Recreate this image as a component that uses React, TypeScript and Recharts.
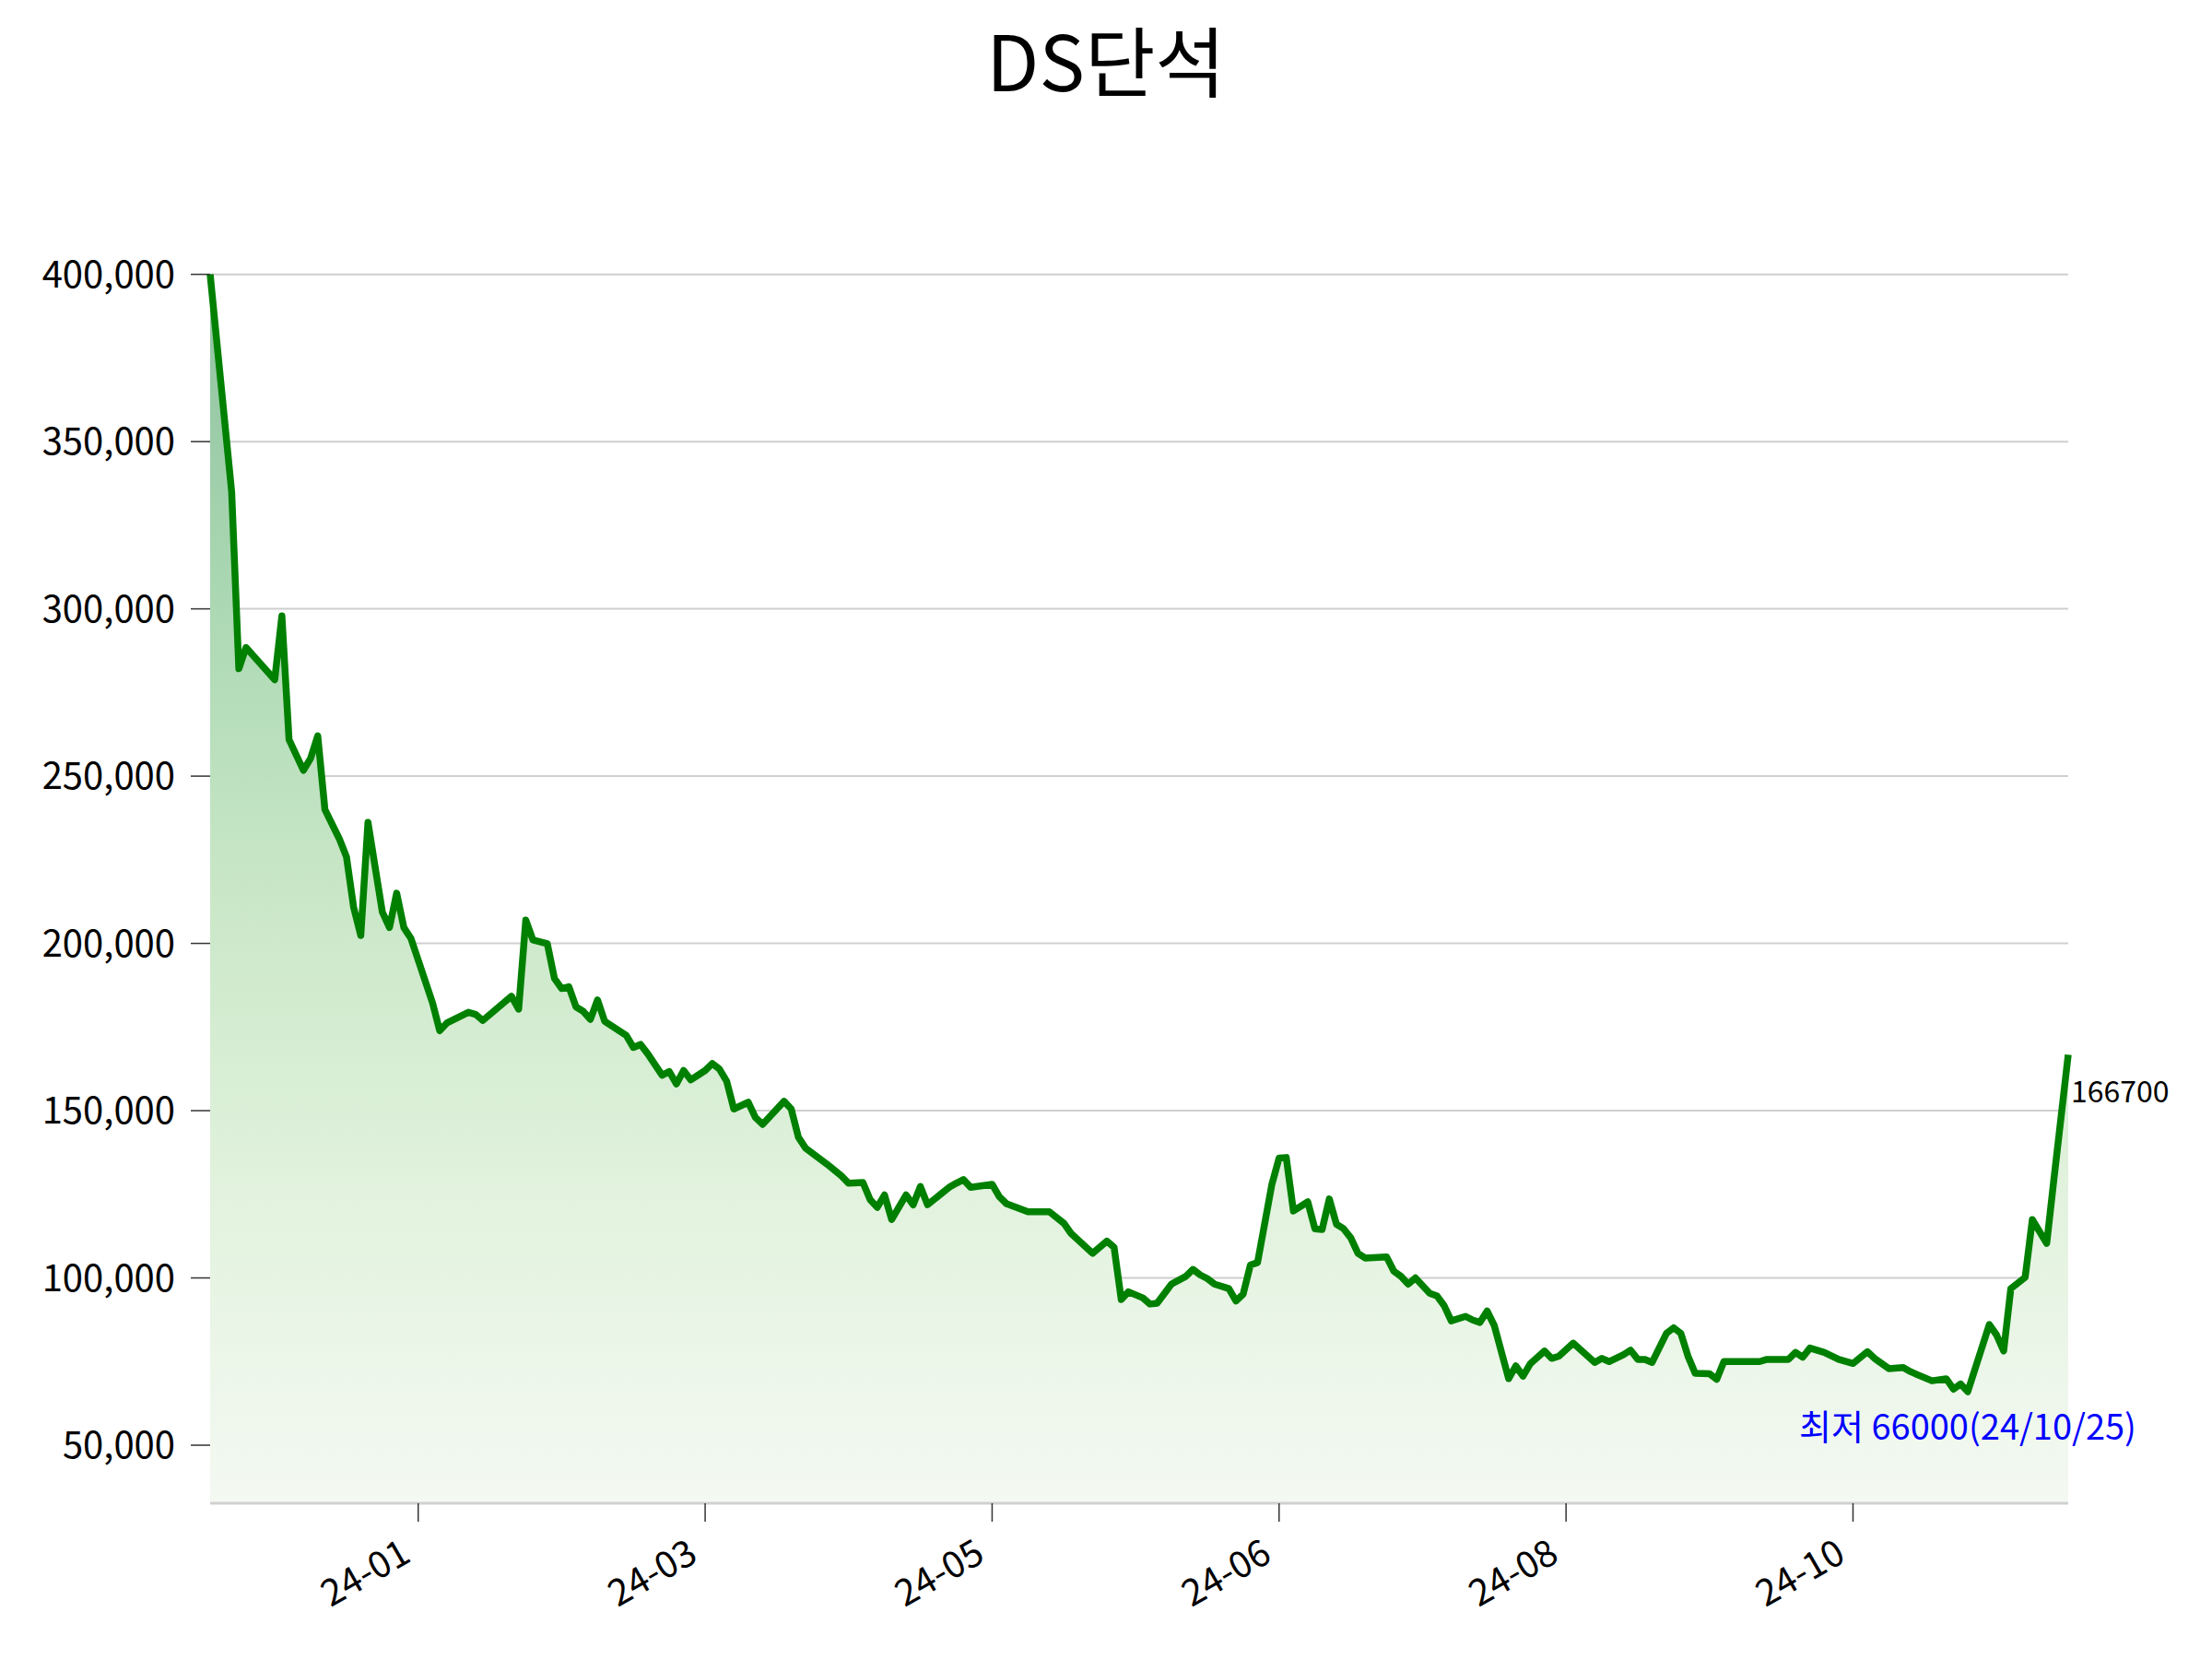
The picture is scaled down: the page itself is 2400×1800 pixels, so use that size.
import { AreaChart, Area, XAxis, YAxis, CartesianGrid, LabelList } from "recharts"

const FONT = '"Noto Sans CJK KR", "Noto Sans", sans-serif'

// trading-day index (x) and closing price (y)
const dayIndex = [
  0, 3, 4, 5, 9, 10, 11, 13, 14, 15, 16, 18, 19, 20, 21, 22, 24, 25, 26, 27,
  28, 31, 32, 33, 36, 37, 38, 42, 43, 44, 45, 47, 48, 49, 50, 51, 52, 53, 54, 55,
  58, 59, 60, 61, 63, 64, 65, 66, 67, 69, 70, 71, 72, 73, 75, 76, 77, 80, 81, 82,
  83, 86, 88, 89, 91, 92, 93, 94, 95, 97, 98, 99, 100, 103, 104, 105, 106, 109, 110, 111,
  114, 117, 119, 120, 123, 125, 126, 127, 128, 130, 131, 132, 134, 136, 137, 138, 139, 140, 142, 143,
  144, 145, 146, 148, 149, 150, 151, 153, 154, 155, 156, 157, 158, 159, 160, 161, 164, 165, 166, 167,
  168, 170, 171, 172, 173, 175, 176, 177, 178, 179, 181, 182, 183, 184, 186, 187, 188, 190, 193, 194,
  195, 197, 198, 199, 200, 201, 203, 204, 205, 206, 207, 209, 210, 211, 216, 217, 220, 221, 222, 223,
  225, 227, 229, 231, 232, 234, 236, 237, 238, 240, 242, 243, 244, 245, 248, 249, 250, 251, 253, 254,
  256, 257, 259,
]

const prices = [
  400000, 335000, 282100, 288450, 278800, 297900, 260900, 251750, 255300, 262050,
  240000, 231300, 225900, 210800, 202350, 236200, 209400, 204750, 215000, 204750,
  201450, 182200, 173900, 176200, 179400, 178800, 176950, 184200, 180350, 207000,
  201000, 199900, 189500, 186500, 187050, 181000, 179700, 177300, 183100, 176700,
  172500, 168900, 169800, 167000, 160600, 161700, 158000, 162000, 159200, 162000,
  164100, 162400, 158800, 150500, 152500, 148000, 145900, 152800, 150500, 142050,
  138800, 134000, 130500, 128300, 128500, 123400, 121100, 124800, 117450, 124800,
  121850, 127350, 121900, 127050, 128300, 129400, 127100, 128000, 124300, 122200,
  119750, 119750, 116350, 113300, 107350, 111000, 109150, 93550, 95850, 94050,
  92200, 92450, 98150, 100450, 102550, 100900, 99800, 98150, 96800, 93100,
  95200, 103850, 104600, 128000, 135800, 136000, 120000, 122750, 114700, 114500,
  123600, 116050, 114700, 111950, 107350, 105950, 106250, 102000, 100450, 98150,
  100000, 95400, 94650, 91750, 87150, 88500, 87400, 86700, 90100, 85750,
  69900, 73700, 70650, 74300, 78150, 75950, 76600, 80500, 74750, 75950,
  75000, 77050, 78400, 75650, 75650, 74750, 83450, 85100, 83450, 76600,
  71500, 71350, 69700, 75000, 75000, 75650, 75650, 77750, 76300, 79050,
  77750, 75650, 74450, 77950, 75950, 72900, 73200, 72000, 71050, 69250,
  69850, 66750, 68300, 66000, 86050, 83000, 78150, 96800, 100200, 117450,
  110300, 129400, 166700,
]

const tickIndex = [29, 69, 109, 149, 189, 229]
const tickLabels = ["24-01", "24-03", "24-05", "24-06", "24-08", "24-10"]
const yTicks = [50000, 100000, 150000, 200000, 250000, 300000, 350000, 400000]

const minDate = "24/10/25"

const data = dayIndex.map((d, i) => ({ day: d, price: prices[i] }))
const lastIndex = prices.length - 1
const minIndex = prices.indexOf(Math.min(...prices))

const XTick = ({ x, y, payload }: any) => {
  const label = tickLabels[tickIndex.indexOf(payload.value)]
  return (
    <g transform={`translate(${x - 6},${y + 40})`}>
      <text transform="rotate(-30)" textAnchor="end" fontSize={40} fontFamily={FONT} fill="#000">
        {label}
      </text>
    </g>
  )
}

const renderPointLabel = (props: any) => {
  const { x, y, index } = props
  if (index === lastIndex) {
    return (
      <text x={x + 3} y={y + 52} fontSize={32} fontFamily={FONT} fill="#000">
        {prices[lastIndex]}
      </text>
    )
  }
  if (index === minIndex) {
    return (
      <text x={x} y={y + 52} textAnchor="middle" fontSize={38} fontFamily={FONT} fill="#0000ff">
        {`최저 ${prices[minIndex]}(${minDate})`}
      </text>
    )
  }
  return null
}

export default function App() {
  return (
    <div style={{ position: "absolute", left: 0, top: 0, width: 2400, height: 1800, background: "#fff" }}>
      <svg width={2400} height={140} style={{ position: "absolute", left: 0, top: 0 }}>
        <text x={1200} y={99} textAnchor="middle" fontSize={83} fontFamily={FONT} fill="#000">
          DS단석
        </text>
      </svg>
      <AreaChart
        width={2400}
        height={1800}
        data={data}
        margin={{ top: 279.5, right: 156, bottom: 0, left: 0 }}
      >
        <defs>
          <linearGradient id="fillGrad" x1="0" y1="0" x2="0" y2="1">
            <stop offset="0%" stopColor="#8ec29f" />
            <stop offset="25%" stopColor="#a9d7b1" />
            <stop offset="50%" stopColor="#c9e7c7" />
            <stop offset="75%" stopColor="#e2f2de" />
            <stop offset="100%" stopColor="#f4f9f2" />
          </linearGradient>
        </defs>
        <CartesianGrid vertical={false} syncWithTicks stroke="#cfcfcf" strokeWidth={2} />
        <XAxis
          dataKey="day"
          type="number"
          domain={[0, 259]}
          ticks={tickIndex}
          height={169}
          tickSize={20}
          tickMargin={2}
          axisLine={{ stroke: "#d0d0d0", strokeWidth: 3 }}
          tickLine={{ stroke: "#333", strokeWidth: 1.5 }}
          tick={<XTick />}
          interval={0}
        />
        <YAxis
          type="number"
          domain={[32650, 405000]}
          allowDataOverflow
          ticks={yTicks}
          width={228}
          tickSize={21}
          tickMargin={17}
          axisLine={false}
          tickLine={{ stroke: "#333", strokeWidth: 1.5 }}
          tickFormatter={(v: number) => v.toLocaleString("en-US")}
          tick={{ fontSize: 40, fontFamily: FONT, fill: "#000" }}
          interval={0}
        />
        <Area
          type="linear"
          dataKey="price"
          stroke="#008000"
          strokeWidth={7.5}
          strokeLinejoin="round"
          fill="url(#fillGrad)"
          fillOpacity={1}
          dot={false}
          activeDot={false}
          isAnimationActive={false}
        >
          <LabelList dataKey="price" content={renderPointLabel} />
        </Area>
      </AreaChart>
    </div>
  )
}
